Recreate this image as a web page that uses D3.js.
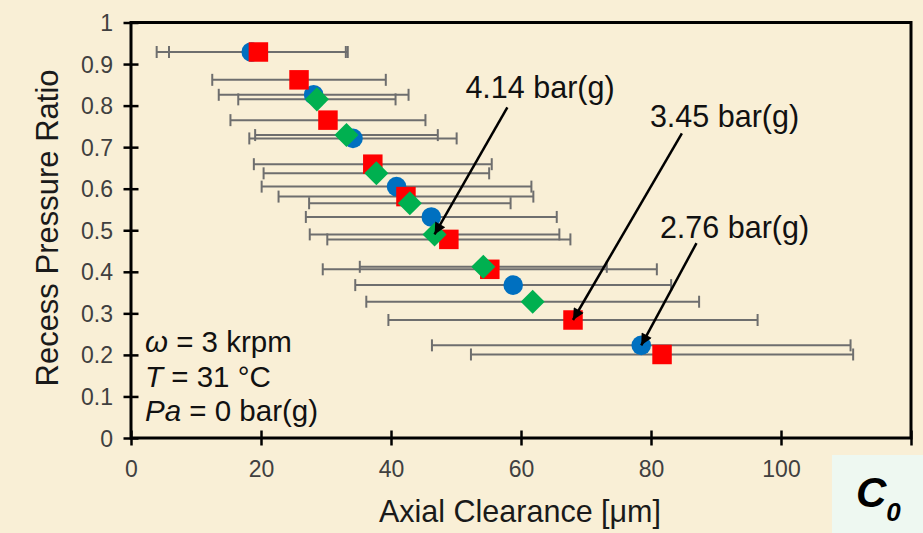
<!DOCTYPE html>
<html>
<head>
<meta charset="utf-8">
<script src="https://cdn.jsdelivr.net/npm/d3@7/dist/d3.min.js"></script>
<style>
  html, body { margin: 0; padding: 0; background: #f9efd6; }
  svg { display: block; font-family: "Liberation Sans", Arial, sans-serif; }
</style>
</head>
<body>
<svg id="chart" width="923" height="533"></svg>
<script>
// Recess pressure ratio vs. axial clearance, three supply pressures.
// Each point: mean clearance (µm), recess pressure ratio, ± clearance spread (µm).

// 2.76 bar(g)
const blueX   = [18.5, 28.1, 34.15, 40.85, 46.2, 58.8, 78.5];
const blueY   = [0.929, 0.826, 0.721, 0.605, 0.532, 0.368, 0.223];
const blueErr = [14.55, 14.6, 15.95, 20.75, 19.3, 24.3, 32.2];

// 3.45 bar(g)
const redX   = [19.6, 25.85, 30.3, 37.2, 42.3, 48.9, 55.2, 68.0, 81.7];
const redY   = [0.929, 0.862, 0.765, 0.659, 0.581, 0.478, 0.406, 0.284, 0.201];
const redErr = [13.75, 13.35, 15.0, 18.3, 19.6, 18.7, 25.7, 28.4, 29.4];

// 4.14 bar(g)
const greenX   = [28.6, 33.15, 37.75, 42.9, 46.7, 54.2, 61.8];
const greenY   = [0.815, 0.729, 0.637, 0.565, 0.49, 0.412, 0.328];
const greenErr = [12.1, 14.05, 17.35, 15.5, 19.2, 19.0, 25.6];

const xTickValues = [0, 20, 40, 60, 80, 100, 120];
const xTickLabels = ["0", "20", "40", "60", "80", "100", ""];
const yTickValues = [0, 0.1, 0.2, 0.3, 0.4, 0.5, 0.6, 0.7, 0.8, 0.9, 1];
const yTickLabels = ["0", "0.1", "0.2", "0.3", "0.4", "0.5", "0.6", "0.7", "0.8", "0.9", "1"];

const seriesNames = ["2.76 bar(g)", "3.45 bar(g)", "4.14 bar(g)"];

const svg = d3.select("#chart");
const W = 923, H = 533;
const plot = { left: 131, right: 911, top: 22.5, bottom: 438 };

const x = d3.scaleLinear().domain([0, 120]).range([plot.left, plot.right]);
const y = d3.scaleLinear().domain([0, 1]).range([plot.bottom, plot.top]);

// page background
svg.append("rect").attr("width", W).attr("height", H).attr("fill", "#f9efd6");

const zip = (xs, ys, es) => xs.map((v, i) => ({ x: v, y: ys[i], e: es[i] }));
const series = [
  { name: seriesNames[0], pts: zip(blueX, blueY, blueErr),   color: "#0070c0", shape: "circle" },
  { name: seriesNames[1], pts: zip(redX, redY, redErr),      color: "#ff0000", shape: "square" },
  { name: seriesNames[2], pts: zip(greenX, greenY, greenErr), color: "#00b050", shape: "diamond" }
];

// error bars (drawn below all markers)
const eb = svg.append("g").attr("stroke", "#6e6e6e").attr("stroke-width", 2).attr("fill", "none");
series.forEach(s => {
  s.pts.forEach(p => {
    const y0 = y(p.y), xl = x(p.x - p.e), xr = x(p.x + p.e);
    eb.append("line").attr("x1", xl).attr("x2", xr).attr("y1", y0).attr("y2", y0);
    eb.append("line").attr("x1", xl).attr("x2", xl).attr("y1", y0 - 6).attr("y2", y0 + 6);
    eb.append("line").attr("x1", xr).attr("x2", xr).attr("y1", y0 - 6).attr("y2", y0 + 6);
  });
});

// markers
const symbolFor = {
  circle: d3.symbol().type(d3.symbolCircle).size(Math.PI * 9.8 * 9.8),
  square: d3.symbol().type(d3.symbolSquare).size(19.5 * 19.5),
  diamond: d3.symbol().type(d3.symbolSquare).size(17 * 17)
};
series.forEach(s => {
  svg.append("g").selectAll("path").data(s.pts).join("path")
    .attr("d", symbolFor[s.shape])
    .attr("fill", s.color)
    .attr("transform", d => `translate(${x(d.x)},${y(d.y)})` + (s.shape === "diamond" ? " rotate(45)" : ""));
});

// axes
const axisColor = "#000";
const xAxis = svg.append("g").attr("transform", `translate(0,${plot.bottom})`)
  .call(d3.axisBottom(x).tickValues(xTickValues).tickFormat((d, i) => xTickLabels[i]).tickSize(7).tickPadding(0));
const yAxis = svg.append("g").attr("transform", `translate(${plot.left},0)`)
  .call(d3.axisLeft(y).tickValues(yTickValues).tickFormat((d, i) => yTickLabels[i]).tickSize(7).tickPadding(0));

[xAxis, yAxis].forEach(a => {
  a.select(".domain").remove();
  a.selectAll(".tick line").attr("stroke", axisColor).attr("stroke-width", 2.5);
  a.selectAll(".tick text").attr("fill", "#404040").style("font-size", "23px")
    .style("font-family", '"Liberation Sans", Arial, sans-serif');
});
xAxis.selectAll(".tick line").attr("y1", -7.5).attr("y2", 7.5);
xAxis.selectAll(".tick text").attr("y", 23).attr("dy", "0.71em");
yAxis.selectAll(".tick line").attr("x1", 7.5).attr("x2", -7.5);
yAxis.selectAll(".tick text").attr("x", -18).attr("dy", "0.35em");

// plot frame
svg.append("rect")
  .attr("x", plot.left).attr("y", plot.top)
  .attr("width", plot.right - plot.left).attr("height", plot.bottom - plot.top)
  .attr("fill", "none").attr("stroke", "#000").attr("stroke-width", 3);

// axis titles
svg.append("text").attr("x", 520).attr("y", 522).attr("text-anchor", "middle")
  .attr("fill", "#1a1a1a").style("font-size", "30.5px").text("Axial Clearance [μm]");
svg.append("text").attr("transform", "translate(58,228) rotate(-90)").attr("text-anchor", "middle")
  .attr("fill", "#1a1a1a").style("font-size", "31px").text("Recess Pressure Ratio");

// operating conditions
const cond = svg.append("g").attr("fill", "#111").style("font-size", "29.5px");
const l1 = cond.append("text").attr("x", 145).attr("y", 352);
l1.append("tspan").style("font-style", "italic").text("ω");
l1.append("tspan").text(" = 3 krpm");
const l2 = cond.append("text").attr("x", 145).attr("y", 387);
l2.append("tspan").style("font-style", "italic").text("T");
l2.append("tspan").text(" = 31 °C");
const l3 = cond.append("text").attr("x", 145).attr("y", 421);
l3.append("tspan").style("font-style", "italic").text("Pa");
l3.append("tspan").text(" = 0 bar(g)");

// series call-outs: arrow from label to a point of each series
svg.append("defs").append("marker")
  .attr("id", "arrowhead").attr("viewBox", "0 0 10 10")
  .attr("refX", 10).attr("refY", 5)
  .attr("markerWidth", 5.6).attr("markerHeight", 4.6)
  .attr("markerUnits", "strokeWidth").attr("orient", "auto")
  .append("path").attr("d", "M0,0 L10,5 L0,10 Z").attr("fill", "#000");

const callouts = [
  { s: 2, idx: 4, tx: 540,   ty: 98,  from: [57.9, 0.796] },
  { s: 1, idx: 7, tx: 724.5, ty: 127, from: [84.75, 0.733] },
  { s: 0, idx: 6, tx: 734.5, ty: 238, from: [87.0, 0.469] }
];
callouts.forEach(c => {
  const p = series[c.s].pts[c.idx];
  svg.append("line")
    .attr("x1", x(c.from[0])).attr("y1", y(c.from[1]))
    .attr("x2", x(p.x)).attr("y2", y(p.y))
    .attr("stroke", "#000").attr("stroke-width", 2.5)
    .attr("marker-end", "url(#arrowhead)");
  svg.append("text").attr("x", c.tx).attr("y", c.ty).attr("text-anchor", "middle")
    .attr("fill", "#111").style("font-size", "30.5px").text(series[c.s].name);
});

// panel tag
svg.append("rect").attr("x", 832).attr("y", 455).attr("width", W - 832).attr("height", H - 455)
  .attr("fill", "#eef8f1");
const tag = svg.append("text").attr("x", 856).attr("y", 507)
  .style("font-weight", "bold").style("font-style", "italic").attr("fill", "#000");
tag.append("tspan").style("font-size", "42px").text("C");
tag.append("tspan").attr("dy", 14).style("font-size", "26px").text("0");
</script>
</body>
</html>
